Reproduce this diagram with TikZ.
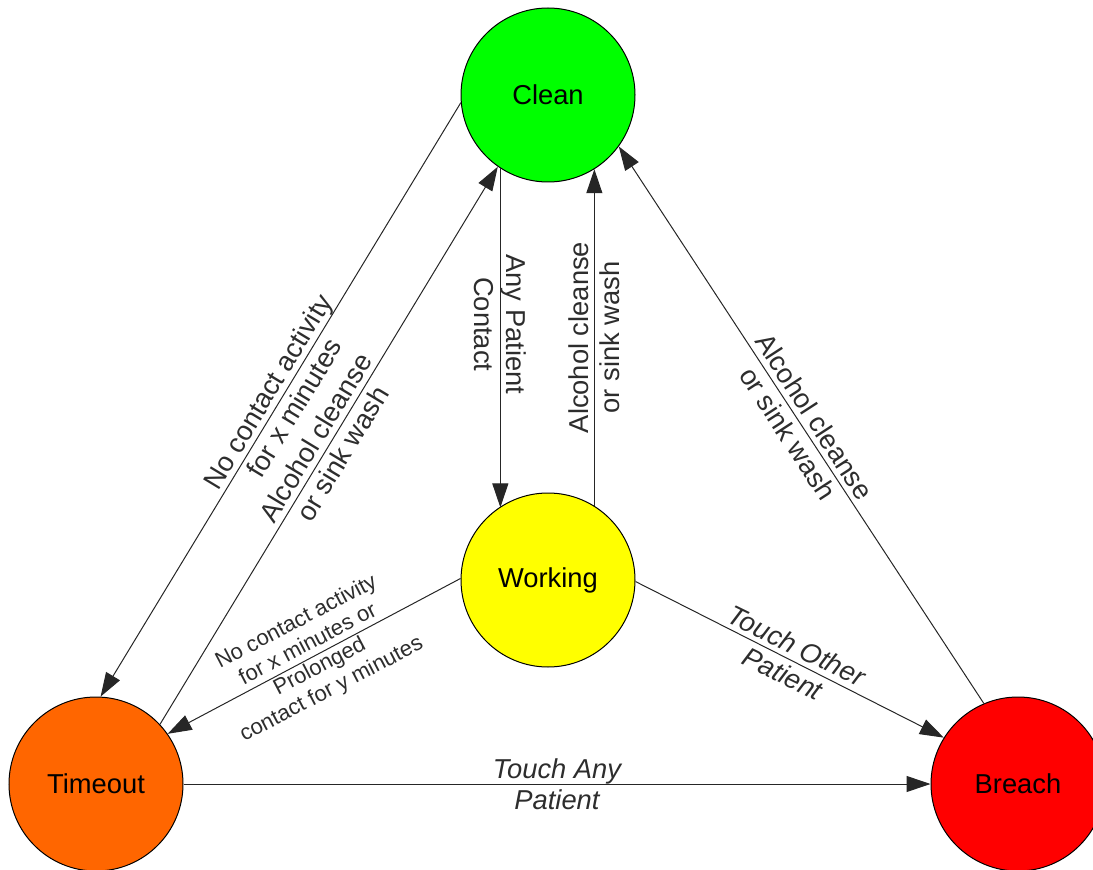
\documentclass[tikz,border=0pt]{standalone}
\usepackage{fontspec}
\setmainfont{Liberation Sans}
\usetikzlibrary{arrows.meta}

\definecolor{cleangreen}{RGB}{0,255,0}
\definecolor{workyellow}{RGB}{255,255,0}
\definecolor{timeorange}{RGB}{255,102,0}
\definecolor{breachred}{RGB}{255,0,0}
\definecolor{labelgray}{RGB}{45,45,45}

\tikzset{every picture/.style={line width=0.75pt}}
\tikzset{
  state/.style={circle, draw, minimum size=130.5pt, inner sep=0pt, font=\fontsize{20.5}{23.5}\selectfont},
  trans/.style={draw=black!85, -{Triangle[length=18pt,width=12pt]}},
  elabel/.style={font=\fontsize{20.5}{23.5}\selectfont, align=center, text=labelgray, inner sep=0pt},
  smalllabel/.style={elabel, font=\fontsize{16.5}{19}\selectfont},
}

\begin{document}
\begin{tikzpicture}[x=0.75pt,y=0.75pt,yscale=-1,xscale=1]
\path[use as bounding box] (0,0) rectangle (1093,870);

%Shape: Circle [clean]
\node[state, fill=cleangreen] (clean) at (548,95) {Clean};
%Shape: Circle [working]
\node[state, fill=workyellow] (working) at (548,580) {Working};
%Shape: Circle [timeout]
\node[state, fill=timeorange] (timeout) at (96,784) {Timeout};
%Shape: Circle [breach]
\node[state, fill=breachred] (breach) at (1018,784) {Breach};

%Straight Lines [clean to timeout]
\draw[trans] (clean.185) -- (timeout.87)
  node[elabel, midway, rotate=58.8] {No contact activity\\for x minutes};
%Straight Lines [timeout to clean]
\draw[trans] (timeout.43) -- (clean.235)
  node[elabel, midway, rotate=58.9] {Alcohol cleanse\\or sink wash};
%Straight Lines [clean to working]
\draw[trans] (clean.237) -- (clean.237 |- working.124)
  node[elabel, pos=0.46, rotate=-90] {Any Patient\\Contact};
%Straight Lines [working to clean]
\draw[trans] (working.58) -- (working.58 |- clean.302)
  node[elabel, midway, rotate=90] {Alcohol cleanse\\or sink wash};
%Straight Lines [breach to clean]
\draw[trans] (breach.113) -- (clean.324)
  node[elabel, midway, rotate=-57] {Alcohol cleanse\\or sink wash};
%Straight Lines [working to timeout]
\draw[trans] (working.179) -- (timeout.35)
  node[smalllabel, midway, rotate=27.6] {No contact activity\\for x minutes or\\Prolonged\\contact for y minutes};
%Straight Lines [working to breach]
\draw[trans] (working.359) -- (breach.148)
  node[elabel, midway, rotate=-26.1] {\itshape Touch Other\\\itshape Patient};
%Straight Lines [timeout to breach]
\draw[trans] (timeout.east) -- (breach.west)
  node[elabel, midway] {\itshape Touch Any\\\itshape Patient};

\end{tikzpicture}
\end{document}
